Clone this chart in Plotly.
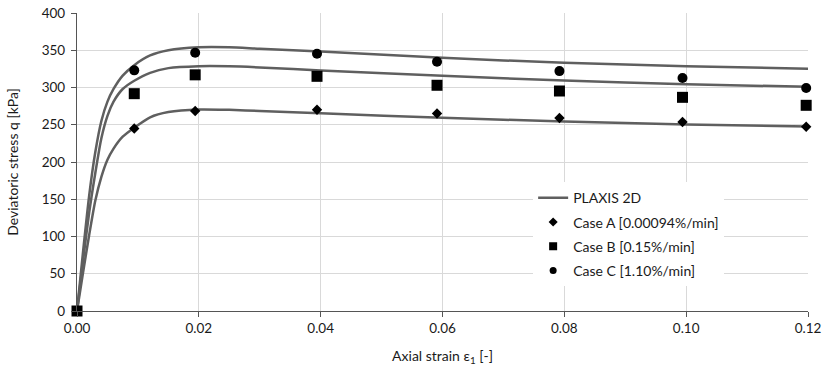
import plotly.graph_objects as go

# Measured test data (axial strain [-], deviatoric stress [kPa])
strain_tests = [0.0, 0.0094, 0.0194, 0.0394, 0.0591, 0.0792, 0.0994, 0.1197]
case_a = [0, 245, 268.5, 270.2, 265, 259, 253.7, 247.4]
case_b = [0, 291.7, 317, 315, 303, 295.3, 286.8, 276.1]
case_c = [0, 323, 346.7, 345.4, 334.6, 322, 312.8, 299.3]

# PLAXIS 2D curves
plaxis_c_x = [0, 0.001, 0.002, 0.003, 0.004, 0.005, 0.006, 0.0075, 0.0094, 0.012, 0.015, 0.02, 0.025, 0.03, 0.04, 0.06, 0.08, 0.10, 0.12]
plaxis_c_q = [0, 80, 155, 213, 255, 281, 298, 316, 330, 343, 350, 354, 354, 352, 348.3, 339.9, 333.2, 328.6, 325.1]
plaxis_b_x = [0, 0.001, 0.002, 0.003, 0.004, 0.005, 0.006, 0.0075, 0.0094, 0.012, 0.015, 0.02, 0.025, 0.03, 0.04, 0.06, 0.08, 0.10, 0.12]
plaxis_b_q = [0, 68, 132, 185, 232, 262, 281, 298, 309, 319.7, 326, 328.6, 328.5, 327, 322.8, 315.7, 309.4, 304.4, 300.9]
plaxis_a_x = [0, 0.001, 0.002, 0.003, 0.004, 0.005, 0.006, 0.0075, 0.0094, 0.012, 0.015, 0.02, 0.025, 0.03, 0.04, 0.06, 0.08, 0.10, 0.12]
plaxis_a_q = [0, 52, 102, 148, 180, 203, 218, 234, 246, 260, 267, 270.5, 270, 268.5, 265.5, 259.3, 254.4, 250.3, 247.7]

x_ticks = [0.0, 0.02, 0.04, 0.06, 0.08, 0.10, 0.12]
x_tick_labels = ["0.00", "0.02", "0.04", "0.06", "0.08", "0.10", "0.12"]
y_ticks = [0, 50, 100, 150, 200, 250, 300, 350, 400]

line_col = "#5f5f5f"
font = "Lato"
txt_col = "#1a1a1a"

fig = go.Figure()
for xs, qs in [(plaxis_c_x, plaxis_c_q), (plaxis_b_x, plaxis_b_q), (plaxis_a_x, plaxis_a_q)]:
    fig.add_trace(go.Scatter(x=xs, y=qs, mode="lines", showlegend=False,
                             line=dict(color=line_col, width=2.5, shape="spline", smoothing=0.7)))

cases = [
    (case_a, "Case A [0.00094%/min]", "diamond", 8, 7),
    (case_b, "Case B [0.15%/min]", "square", 11, 8),
    (case_c, "Case C [1.10%/min]", "circle", 10, 7),
]
for vals, name, sym, size, _ in cases:
    fig.add_trace(go.Scatter(x=strain_tests, y=vals, mode="markers", showlegend=False,
                             cliponaxis=False, marker=dict(symbol=sym, size=size, color="black")))

# legend entries (smaller symbols, as in the reference)
fig.add_trace(go.Scatter(x=[None], y=[None], mode="lines", name="PLAXIS 2D",
                         line=dict(color=line_col, width=2.5), legendgroup="g0"))
for i, (vals, name, sym, size, lsize) in enumerate(cases):
    fig.add_trace(go.Scatter(x=[None], y=[None], mode="markers", name=name,
                             marker=dict(symbol=sym, size=lsize, color="black"),
                             legendgroup="g%d" % (i + 1)))

fig.update_layout(
    width=823, height=369,
    margin=dict(l=77, r=15, t=13, b=58),
    paper_bgcolor="white", plot_bgcolor="white",
    font=dict(family=font, size=13.5, color=txt_col),
    showlegend=True,
    legend=dict(x=0.624, y=0.432, xanchor="left", yanchor="top", bgcolor="white",
                borderwidth=0, font=dict(family=font, size=14, color=txt_col),
                tracegroupgap=3, traceorder="grouped", itemwidth=30),
    xaxis=dict(range=[0, 0.12], tickvals=x_ticks, ticktext=x_tick_labels,
               showgrid=True, gridcolor="#d9d9d9", gridwidth=1,
               showline=True, linecolor="#555", linewidth=1.3,
               ticks="outside", ticklen=5, tickcolor="#555",
               zeroline=False, tickfont=dict(size=13.5), automargin=False,
               ticklabeloverflow="allow",
               title=dict(text="Axial strain ε<sub>1</sub> [-]", font=dict(size=14), standoff=15)),
    yaxis=dict(range=[0, 400], tickvals=y_ticks,
               showgrid=True, gridcolor="#d9d9d9", gridwidth=1,
               showline=True, linecolor="#555", linewidth=1.3,
               ticks="outside", ticklen=5, tickcolor="#555",
               zeroline=False, tickfont=dict(size=13.5), ticklabelstandoff=3, automargin=False,
               ticklabeloverflow="allow",
               title=dict(text="Deviatoric stress q [kPa]", font=dict(size=14), standoff=19)),
)
# remove the default 8px page margin so the figure fills the window exactly
fig.write_html("out.html", config={"displayModeBar": False},
               post_script="document.body.style.margin='0';document.body.style.overflow='hidden';")
